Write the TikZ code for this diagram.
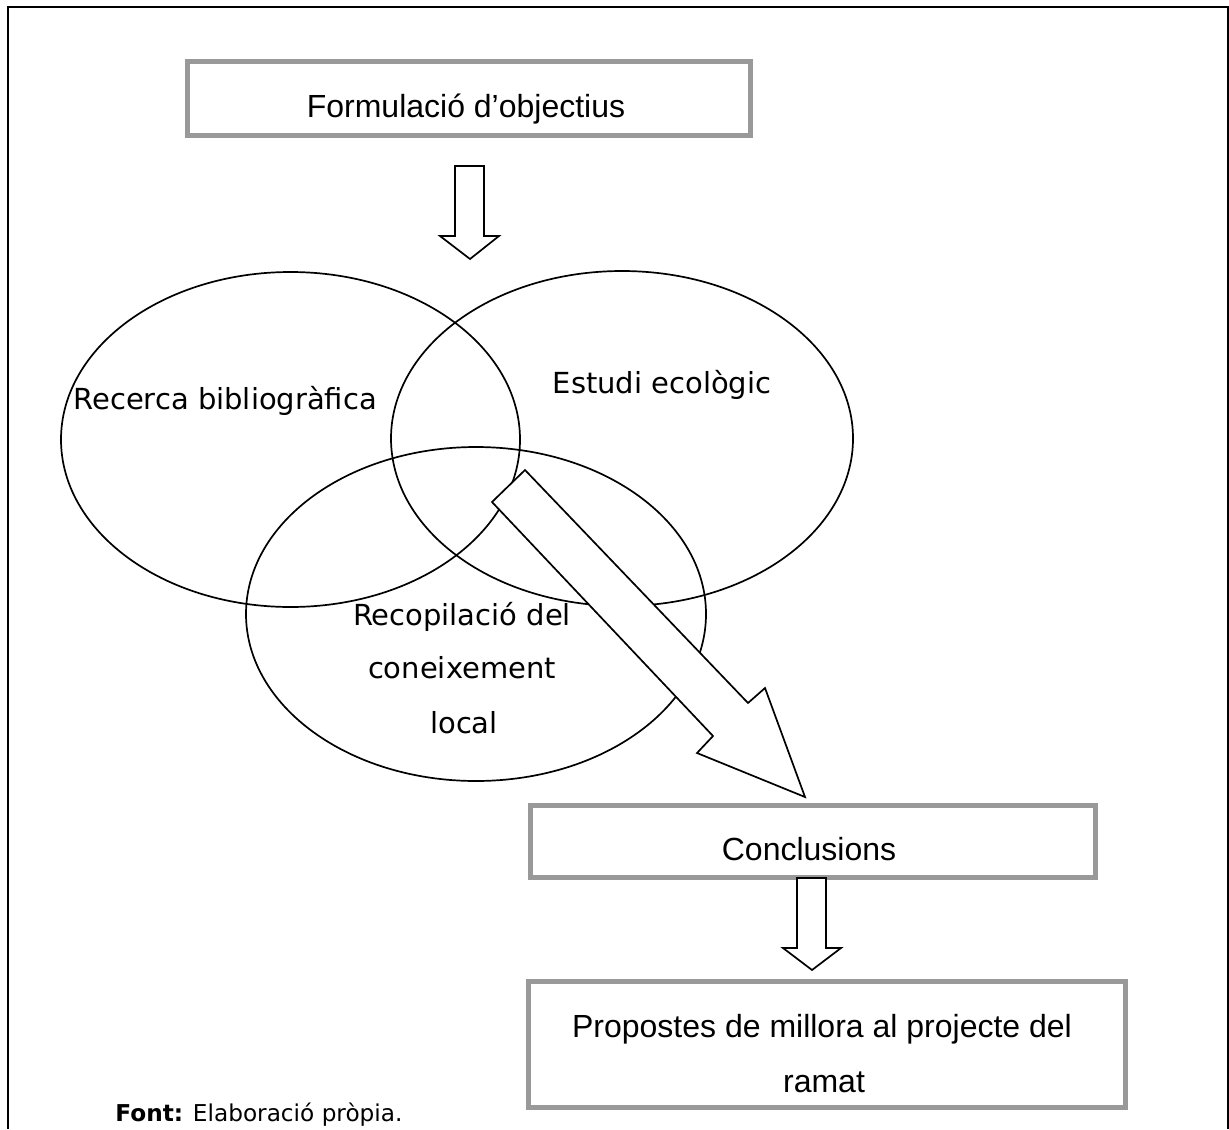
\documentclass[tikz,border=0pt]{standalone}
\usepackage{fontspec}
\usetikzlibrary{shapes.geometric}
\setmainfont{Liberation Sans}
\newfontfamily\tah{DejaVu Sans}
\begin{document}
\begin{tikzpicture}[x=0.5pt,y=-0.5pt,
  graybox/.style={draw=black!40,line width=2.5pt},
  ell/.style={draw=black,line width=0.85pt},
  hollowarrow/.style={draw=black,line width=0.85pt,fill=white,line join=miter},
  arialtxt/.style={font=\fontsize{16}{18}\selectfont,inner sep=0pt,anchor=base},
  tahtxt/.style={font=\tah\fontsize{14.5}{27}\selectfont,inner sep=0pt,anchor=base},
]
\useasboundingbox (0,0) rectangle (1229,1129);
% outer frame
\draw[line width=1pt] (8,1129) -- (8,7) -- (1228,7) -- (1228,1129);

% top box
\node[graybox,minimum width=563*0.5pt,minimum height=74*0.5pt,anchor=north west,inner sep=0pt] (obj) at (185,59) {};
\node[arialtxt] (objt) at (466,118) {Formulació d’objectius};

% arrow 1
\draw[hollowarrow] (455,166) -- (484,166) -- (484,236) -- (499,236) -- (470,259) -- (440,236) -- (455,236) -- cycle;

% ellipses
\node[ell,ellipse,minimum width=459*0.5pt,minimum height=335*0.5pt,inner sep=0pt] (e1) at (290.5,439.5) {};
\node[ell,ellipse,minimum width=462*0.5pt,minimum height=335*0.5pt,inner sep=0pt] (e2) at (622,438.5) {};
\node[ell,ellipse,minimum width=460*0.5pt,minimum height=334*0.5pt,inner sep=0pt] (e3) at (476,614) {};

\node[tahtxt,anchor=base west] (t1) at (73,409) {Recerca bibliogràfica};
\node[tahtxt] (t2) at (662,393) {Estudi ecològic};
\node[tahtxt] (t3a) at (462,625) {Recopilació del};
\node[tahtxt] (t3b) at (462,678) {coneixement};
\node[tahtxt] (t3c) at (464,733) {local};

% big diagonal arrow
\draw[hollowarrow] (525,470) -- (748,703) -- (765,688) -- (805,797) -- (697,753) -- (713,736) -- (492,502) -- cycle;

% conclusions
\node[graybox,minimum width=565*0.5pt,minimum height=72*0.5pt,anchor=north west,inner sep=0pt] (conc) at (528,803) {};
\node[arialtxt] (conct) at (809,860) {Conclusions};

% arrow 2
\draw[hollowarrow] (797,878) -- (826,878) -- (826,948) -- (841,948) -- (812,970) -- (783,948) -- (797,948) -- cycle;

% propostes
\node[graybox,minimum width=597*0.5pt,minimum height=126*0.5pt,anchor=north west,inner sep=0pt] (prop) at (526,979) {};
\node[arialtxt] (propa) at (822,1037) {Propostes de millora al projecte del};
\node[arialtxt] (propb) at (824,1092) {ramat};

% caption
\node[font=\tah\fontsize{11.6}{13}\selectfont,inner sep=0pt,anchor=base west] (font) at (115,1121) {\textbf{Font:} Elaboració pròpia.};
\end{tikzpicture}
\end{document}
